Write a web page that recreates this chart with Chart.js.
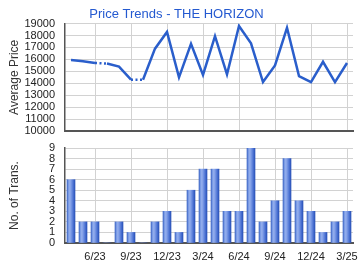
<!DOCTYPE html>
<html>
<head>
<meta charset="utf-8">
<script src="https://cdn.jsdelivr.net/npm/chart.js@4.4.1/dist/chart.umd.min.js"></script>
<style>
  html, body { margin: 0; padding: 0; background: #ffffff; }
  #wrap { position: relative; width: 360px; height: 270px; overflow: hidden; }
  #top { position: absolute; left: 0; top: 0; width: 360px; height: 135px; }
  #bot { position: absolute; left: 0; top: 135px; width: 360px; height: 135px; }
</style>
</head>
<body>
<div id="wrap">
  <div id="top"><canvas id="c1" width="360" height="135"></canvas></div>
  <div id="bot"><canvas id="c2" width="360" height="135"></canvas></div>
</div>
<script>
const months = ['4/23','5/23','6/23','7/23','8/23','9/23','10/23','11/23','12/23','1/24','2/24','3/24',
                '4/24','5/24','6/24','7/24','8/24','9/24','10/24','11/24','12/24','1/25','2/25','3/25'];
const avgPrice = [15950,15850,15700,15650,15400,14300,14300,16900,18300,14500,17300,14700,
                  17950,14750,18800,17350,14100,15500,18650,14600,14100,15800,14100,15700];
const transactions = [6,2,2,0,2,1,0,2,3,1,5,7,7,3,3,9,2,4,8,4,3,1,2,3];
const priceTicks = [10000,11000,12000,13000,14000,15000,16000,17000,18000,19000];
const transTicks = [0,1,2,3,4,5,6,7,8,9];

const FONT = "'Liberation Sans', Arial, sans-serif";
const GRID = '#d2d2d2';
const AXIS = '#555555';
const TXT = '#222222';

function isQuarterTick(i) { return i % 3 === 2; }

const xCommon = (showLabels, h) => ({
  type: 'category',
  offset: true,
  afterFit: (s) => { s.height = h; s.paddingLeft = 0; s.paddingRight = 0; },
  grid: {
    offset: false,
    drawTicks: false,
    color: (ctx) => (ctx.index !== undefined && isQuarterTick(ctx.index)) ? GRID : 'rgba(0,0,0,0)',
    lineWidth: 1
  },
  border: { display: true, color: AXIS, width: 2 },
  ticks: {
    display: showLabels,
    autoSkip: false,
    maxRotation: 0,
    padding: 7,
    color: TXT,
    font: { family: FONT, size: 11 },
    callback: function(v, i) { return isQuarterTick(i) ? months[i] : ''; }
  }
});

const yCommon = (vals, title) => ({
  min: vals[0],
  max: vals[vals.length - 1],
  afterFit: (s) => { s.width = 65; s.paddingTop = 0; s.paddingBottom = 0; },
  afterBuildTicks: (s) => { s.ticks = vals.map(v => ({ value: v })); },
  grid: { drawTicks: false, color: GRID, lineWidth: 1 },
  border: { display: true, color: AXIS, width: 1.5 },
  ticks: {
    autoSkip: false,
    padding: 10,
    color: TXT,
    font: { family: FONT, size: 11 },
    callback: (v) => String(v)
  },
  title: {
    display: true,
    text: title,
    color: '#333333',
    font: { family: FONT, size: 12 },
    padding: { top: 7, bottom: 0 }
  }
});

// Price line chart
new Chart(document.getElementById('c1'), {
  type: 'line',
  data: {
    labels: months,
    datasets: [{
      data: avgPrice,
      borderColor: '#2a5ecb',
      borderWidth: 2.5,
      pointRadius: 0,
      tension: 0,
      fill: false,
      segment: {
        borderDash: (ctx) => transactions[ctx.p1DataIndex] === 0 ? [2, 2.5] : undefined
      }
    }]
  },
  options: {
    responsive: false,
    animation: false,
    layout: { padding: { left: 0, right: 7, top: 0, bottom: 0 } },
    plugins: {
      legend: { display: false },
      tooltip: { enabled: false },
      title: {
        display: true,
        text: 'Price Trends - THE HORIZON',
        color: '#2459d0',
        font: { family: FONT, size: 13, weight: 'normal' },
        padding: { top: 7, bottom: 1 }
      }
    },
    scales: {
      x: xCommon(false, 4),
      y: yCommon(priceTicks, 'Average Price')
    }
  }
});

// Transactions bar chart
function barGradient(ctx) {
  const chart = ctx.chart;
  const xs = chart.scales && chart.scales.x;
  if (!xs || ctx.dataIndex === undefined || !isFinite(xs.getPixelForValue(ctx.dataIndex))) return '#5b82d8';
  const cx = xs.getPixelForValue(ctx.dataIndex);
  const g = chart.ctx.createLinearGradient(cx - 4, 0, cx + 4, 0);
  g.addColorStop(0, '#3d66c6');
  g.addColorStop(0.2, '#7e9ee6');
  g.addColorStop(0.35, '#96b0ee');
  g.addColorStop(0.6, '#6b8de0');
  g.addColorStop(0.85, '#3f67cc');
  g.addColorStop(1, '#2a52b6');
  return g;
}

new Chart(document.getElementById('c2'), {
  type: 'bar',
  data: {
    labels: months,
    datasets: [{
      data: transactions,
      backgroundColor: barGradient,
      borderWidth: 0,
      barThickness: 8
    }]
  },
  options: {
    responsive: false,
    animation: false,
    layout: { padding: { left: 0, right: 7, top: 13, bottom: 0 } },
    plugins: { legend: { display: false }, tooltip: { enabled: false } },
    scales: {
      x: xCommon(true, 27),
      y: yCommon(transTicks, 'No. of Trans.')
    }
  }
});
</script>
</body>
</html>
